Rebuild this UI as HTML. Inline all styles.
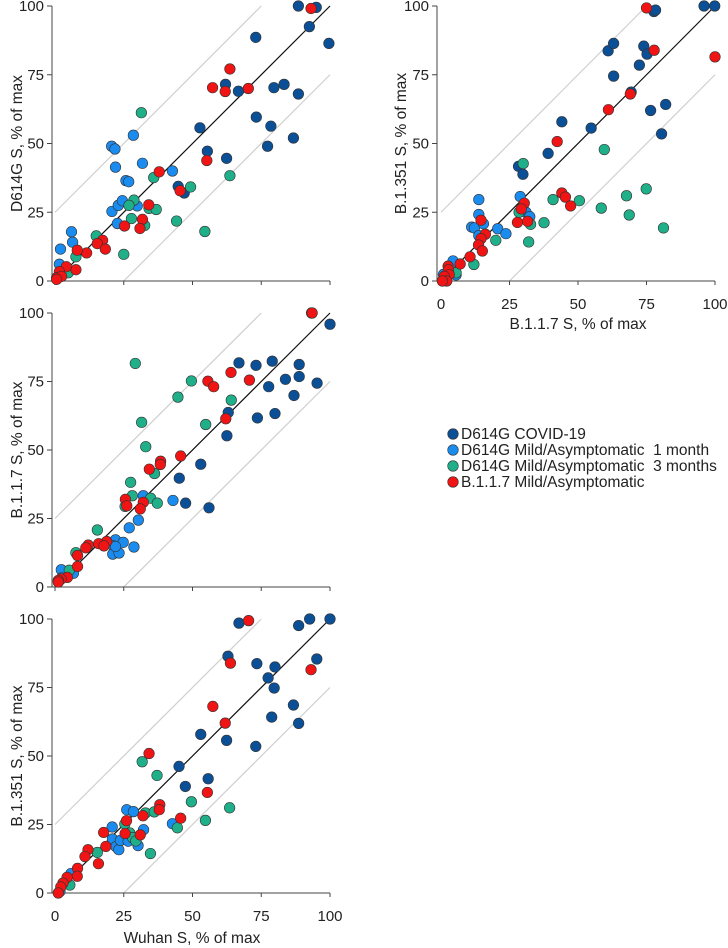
<!DOCTYPE html>
<html><head><meta charset="utf-8"><style>
html,body{margin:0;padding:0;background:#fff;}
svg{display:block;font-family:"Liberation Sans",Arial,sans-serif;}
</style></head><body>
<svg id="chart" width="728" height="948" viewBox="0 0 728 948" xmlns="http://www.w3.org/2000/svg"></svg>
<script>
const seriesNames = ["D614G COVID-19","D614G Mild/Asymptomatic  1 month","D614G Mild/Asymptomatic  3 months","B.1.1.7 Mild/Asymptomatic"];
const seriesColors = ["#0b4f96","#1a8cf0","#1fb08a","#f01414"];
const tickValues = [0,25,50,75,100];

// Panel 1: Wuhan (x) vs D614G (y)
const p1Covid = [[88.5,100],[95,99.5],[92.5,92.5],[99.6,86.4],[73,88.6],[62,71.5],[66.7,69],[79.6,70.3],[83.3,71.5],[88.5,68],[73.2,59.6],[52.7,55.7],[78.5,56.3],[77.3,49],[86.7,52],[55.4,47.2],[62.4,44.6],[44.8,34.4],[47,32]];
const p1Mild1 = [[20.6,49],[21.8,48],[28.5,53],[22,41.4],[31.8,42.8],[25.8,36.5],[26.8,36.1],[42.7,40],[20.7,25.3],[23,27.5],[24.5,29.2],[29.9,27.3],[22.7,20.9],[2,11.6],[6,17.9],[6.4,14.1],[1.6,6.1]];
const p1Mild3 = [[31.4,61.2],[35.9,37.6],[28.7,29.4],[26.9,27.5],[34.2,26.4],[36.8,26],[27.8,22.7],[32.6,20.2],[44.2,21.8],[49.3,34.2],[54.5,18],[63.6,38.3],[25,9.7],[15,16.4],[7.6,8.8],[4.8,3],[2.2,1.7]];
const p1B117 = [[93.1,99.1],[63.6,77.1],[57.3,70.3],[61.9,68.9],[70.3,70],[55.2,43.8],[45.5,32.8],[37.9,39.7],[34.1,27.7],[31.8,22.4],[30.9,19.1],[25.3,20],[17.3,14.8],[15.4,13.6],[18.3,11.6],[11.5,10.2],[8.1,11.2],[7.6,4.1],[4.1,5.2],[1.6,3.4],[0.6,1.2],[2.4,1.7],[0.6,0.6]];

// Panel 2: B.1.1.7 (x) vs B.1.351 (y)
const p2Covid = [[96,100],[99.9,100],[77.7,98],[78.3,98.5],[61,83.7],[63,86.4],[74,85.4],[75.2,82.5],[72.4,78.5],[63,74.5],[69.4,68.7],[76.5,62],[82,64.2],[80.5,53.5],[54.8,55.6],[44.1,57.9],[39.1,46.4],[28.3,41.7],[29.9,38.8]];
const p2Mild1 = [[13.8,29.6],[13.8,24.2],[11.2,19.6],[12.2,19.3],[13.8,16.5],[15.5,20.8],[20.7,19],[23.7,17.2],[28.9,30.7],[31,25],[32.4,23.4],[4.4,7.3],[5.5,2.2],[0.9,2.4]];
const p2Mild3 = [[30,42.7],[59.6,47.8],[28.5,25],[32.7,20.6],[32,14.2],[37.6,21.2],[40.9,29.6],[50.5,29.2],[58.5,26.5],[67.7,31],[68.7,24],[74.9,33.5],[81.2,19.3],[20,14.8],[12,6],[5.5,3]];
const p2B117 = [[75,99.3],[77.8,83.9],[100,81.5],[69.1,68],[61.1,62.3],[42.4,50.7],[44.1,32],[45.4,30.5],[47.3,27.3],[30.4,28.3],[29.3,26.2],[27.9,21.3],[31.6,21.7],[14.6,22.1],[16.2,17],[14.6,15.4],[13.7,13.1],[15.1,10.9],[10.6,8.8],[7,6.2],[2.6,5.4],[2.7,4.1],[3,2.3],[1.2,1.7],[2.1,0],[0.5,0]];

// Panel 3: Wuhan (x) vs B.1.1.7 (y)
const p3Covid = [[93.3,100],[100,95.9],[66.9,81.8],[73.1,80.9],[79,82.4],[88.8,81.2],[83.8,75.8],[88.8,76.8],[77.7,73.1],[95.3,74.4],[86.9,69.9],[63,63.7],[73.6,61.7],[80,63.3],[62.5,55.2],[53,44.8],[45.2,39.7],[47.5,30.6],[56,28.9]];
const p3Mild1 = [[32.1,33.3],[42.9,31.6],[27,21.6],[30.3,24.4],[28.7,14.6],[22,17.2],[24.8,16.3],[21.2,15],[21,12],[23.3,12.4],[22,14.8],[2.3,6.3],[6.7,5],[2.4,3.3]];
const p3Mild3 = [[29.2,81.6],[49.6,75.2],[44.7,69.3],[64.1,68.2],[54.8,59.3],[31.5,60.1],[33,51.2],[36.2,41.4],[27.5,38.2],[28.1,33.3],[34.8,32.4],[37.2,30.6],[25.5,29.4],[15.4,20.8],[7.6,12.5],[5.2,6.1]];
const p3B117 = [[93.5,100],[64,78.3],[55.6,75.1],[57.7,73.1],[70.7,75.5],[62.1,61.4],[45.7,47.8],[34.3,43],[38.4,45.9],[38.3,44.7],[25.6,32],[26.1,29.6],[32.1,30.9],[31,28.5],[18.8,16.6],[15.9,15.8],[17.8,15],[12.1,15.3],[11.2,14.3],[8.2,11.5],[8.2,7.5],[4.5,3.5],[2.2,2.9],[1.2,2.4],[1.2,1.8]];

// Panel 4: Wuhan (x) vs B.1.351 (y)
const p4Covid = [[66.9,98.5],[92.6,100],[100,100],[88.6,97.6],[62.9,86.4],[73.4,83.7],[80,82.5],[95.2,85.4],[77.5,78.5],[79.7,74.8],[86.7,68.6],[78.8,64.2],[88.6,61.9],[53,57.9],[62.4,55.7],[73,53.5],[45.1,46.2],[47.4,38.9],[55.7,41.7]];
const p4Mild1 = [[26.1,30.4],[28.5,29.7],[20.8,24.1],[32.2,23.1],[20.9,19.7],[22.2,16.9],[23.2,15.8],[23.8,19.2],[26.6,18.9],[30.2,17.3],[42.7,25.3],[5.8,7.1],[1.8,0.6]];
const p4Mild3 = [[31.7,47.9],[37.1,42.9],[32.9,29.2],[36.1,29.6],[49.6,33.3],[54.7,26.5],[63.5,31.1],[44.5,23.8],[34.7,14.4],[25.4,25.2],[27.2,21.9],[28.2,20.2],[29.4,19],[15.4,14.8],[5.4,2.9]];
const p4B117 = [[70.4,99.4],[63.8,83.9],[93.1,81.5],[57.4,68.1],[61.9,62],[34.2,50.9],[55.4,36.7],[45.7,27.3],[38.1,32.2],[37.9,30.4],[32,28.2],[31,21.2],[26,26.4],[25.5,21.7],[17.7,22.1],[18.5,17],[15.8,10.7],[12,15.8],[10.9,13.3],[8.2,9],[8.1,6.1],[4.4,5.7],[2.9,3.6],[2.1,2.2],[1.2,0]];

const NS = "http://www.w3.org/2000/svg";
const svg = document.getElementById("chart");
function mk(tag, attrs, parent){
  const e = document.createElementNS(NS, tag);
  for (const k in attrs) e.setAttribute(k, attrs[k]);
  (parent||svg).appendChild(e);
  return e;
}

const panels = [
  {id:"wuhan-vs-d614g", x0:55, x1:330, y0:281, y1:6, ax:52, xLabels:false, ytitle:"D614G S, % of max", ytx:18, xtitle:null, series:[p1Covid,p1Mild1,p1Mild3,p1B117]},
  {id:"b117-vs-b1351", x0:441, x1:715, y0:281, y1:6, ax:437, xLabels:true, ytitle:"B.1.351 S, % of max", ytx:402, xtitle:"B.1.1.7 S, % of max", xtx:578, xty:329, series:[p2Covid,p2Mild1,p2Mild3,p2B117]},
  {id:"wuhan-vs-b117", x0:55, x1:330, y0:587, y1:313, ax:52, xLabels:false, ytitle:"B.1.1.7 S, % of max", ytx:18, xtitle:null, series:[p3Covid,p3Mild1,p3Mild3,p3B117]},
  {id:"wuhan-vs-b1351", x0:55, x1:330, y0:893, y1:619, ax:52, xLabels:true, ytitle:"B.1.351 S, % of max", ytx:18, xtitle:"Wuhan S, % of max", xtx:192, xty:943, series:[p4Covid,p4Mild1,p4Mild3,p4B117]}
];

panels.forEach(p=>{
  const g = mk("g",{});
  
  
  const sx = v => p.x0 + (p.x1-p.x0)*v/100;
  const sy = v => p.y0 + (p.y1-p.y0)*v/100;
  const gl1 = mk("line",{x1:sx(0),y1:sy(25),x2:sx(75),y2:sy(100),stroke:"#cfcfcf","stroke-width":1.2},g);
  
  
  const gl2 = mk("line",{x1:sx(25),y1:sy(0),x2:sx(100),y2:sy(75),stroke:"#cfcfcf","stroke-width":1.2},g);
  
  
  const id = mk("line",{x1:sx(0),y1:sy(0),x2:sx(100),y2:sy(100),stroke:"#111","stroke-width":1.2},g);
  
  
  const ya = mk("line",{x1:p.ax,y1:sy(100),x2:p.ax,y2:p.y0,stroke:"#444","stroke-width":1},g);
  
  
  const xa = mk("line",{x1:p.ax-4,y1:p.y0,x2:sx(100),y2:p.y0,stroke:"#444","stroke-width":1},g);
  
  
  tickValues.forEach(t=>{
    mk("line",{x1:p.ax-5,y1:sy(t),x2:p.ax,y2:sy(t),stroke:"#444","stroke-width":1},g);
    const yl = mk("text",{x:p.ax-8,y:sy(t)+5,"text-anchor":"end","font-size":15,fill:"#222"},g);
    yl.textContent = t;
    
    
    mk("line",{x1:sx(t),y1:p.y0,x2:sx(t),y2:p.y0+4,stroke:"#444","stroke-width":1},g);
    if (p.xLabels){
      const xl = mk("text",{x:sx(t),y:p.y0+28,"text-anchor":"middle","font-size":15,fill:"#222"},g);
      xl.textContent = t;
      
      
    }
  });
  const yt = mk("text",{x:p.ytx,y:(p.y0+p.y1)/2,"text-anchor":"middle","font-size":15.5,fill:"#222",transform:`rotate(-90 ${p.ytx} ${(p.y0+p.y1)/2})`,"dominant-baseline":"middle"},g);
  yt.textContent = p.ytitle;
  
  
  if (p.xtitle){
    const xt = mk("text",{x:p.xtx,y:p.xty,"text-anchor":"middle","font-size":15.5,fill:"#222"},g);
    xt.textContent = p.xtitle;
    
    
  }
  p.series.forEach((arr,si)=>{
    arr.forEach(d=>{
      const c = mk("circle",{cx:sx(d[0]),cy:sy(d[1]),r:5.3,fill:seriesColors[si],stroke:"#333","stroke-width":0.6},g);
      
      
    });
  });
});

const lg = mk("g",{});


seriesNames.forEach((n,i)=>{
  const y = 434 + i*16;
  const c = mk("circle",{cx:453,cy:y,r:5.3,fill:seriesColors[i],stroke:"#333","stroke-width":0.6},lg);
  
  
  const t = mk("text",{x:461,y:y+5,"font-size":15.5,fill:"#222"},lg);
  t.style.whiteSpace = "pre";
  t.textContent = n;
  
  
});
</script>
</body></html>
